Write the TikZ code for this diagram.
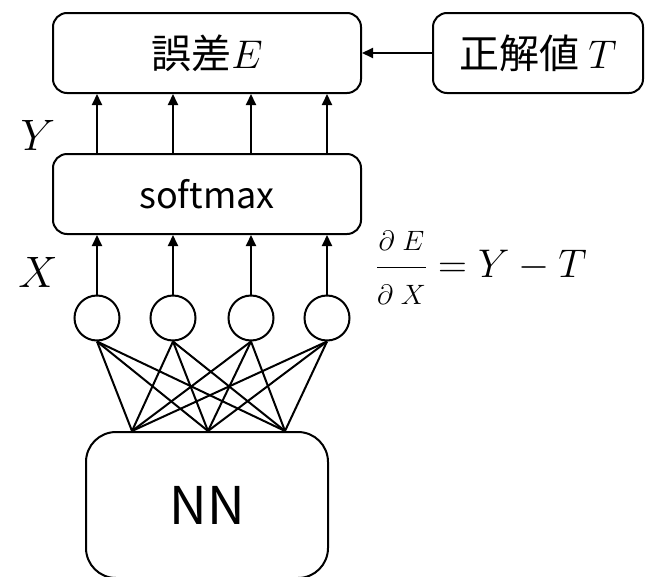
\RequirePackage{fix-cm}
\documentclass[tikz,border=0pt]{standalone}
\usepackage{amsmath}
\usepackage{fontspec}
\newfontfamily\jpfont{Noto Sans CJK JP}
\usetikzlibrary{positioning}
\usetikzlibrary{arrows.meta}

\begin{document}
\begin{tikzpicture}[x=1pt, y=-1pt, line width=2pt,
  box/.style={draw, rounded corners=14pt, inner sep=0pt, line width=2pt},
  unit/.style={draw, circle, minimum size=45pt, inner sep=0pt, line width=2pt},
  up/.style={-{Triangle[length=11pt, width=10pt]}, line width=2pt}]

\useasboundingbox (0, 0) rectangle (645, 576);

% boxes

\node [box, minimum width=308pt, minimum height=80pt] at (207, 53) (err) {\jpfont\fontsize{40}{46}\selectfont 誤差\(\fontsize{50}{56}\selectfont E\)};
\node [box, minimum width=210pt, minimum height=80pt] at (538, 53) (ans) {\jpfont\fontsize{40}{46}\selectfont 正解値 \(\fontsize{50}{56}\selectfont T\)};
\node [box, minimum width=308pt, minimum height=80pt] at (207, 194) (soft) {\jpfont\fontsize{36}{42}\selectfont softmax};
\node [box, rounded corners=30pt, minimum width=242pt, minimum height=146pt] at (207, 505) (nn) {\jpfont\fontsize{52}{58}\selectfont NN};

\path [draw, up] (ans.west) to (err.east);

% units

\node [unit] at (97, 318) (c1) {};
\node [unit] at (173, 318) (c2) {};
\node [unit] at (251, 318) (c3) {};
\node [unit] at (327, 318) (c4) {};

\coordinate (p1) at ([xshift=-75pt]nn.north);
\coordinate (p2) at ([xshift=1pt]nn.north);
\coordinate (p3) at ([xshift=78pt]nn.north);

\foreach \i in {1,...,4} {
  \path [draw, up] (c\i.north) to (c\i |- soft.south);
  \path [draw, up] (c\i |- soft.north) to (c\i |- err.south);
  \foreach \j in {1,2,3}
    \path [draw] (c\i.south) to (p\j);
}

% labels

\node at (38, 135) (ylab) {\fontsize{44}{50}\selectfont \(Y\)};
\node at (38, 272) (xlab) {\fontsize{44}{50}\selectfont \(X\)};
\node [anchor=west, inner sep=0pt] at (375, 268) (grad) {\fontsize{40}{46}\selectfont \(\dfrac{\hbox{\fontsize{28}{32}\selectfont\(\partial\; E\)}}{\hbox{\fontsize{28}{32}\selectfont\(\partial\; X\)}} = Y - T\)};

\end{tikzpicture}
\end{document}
